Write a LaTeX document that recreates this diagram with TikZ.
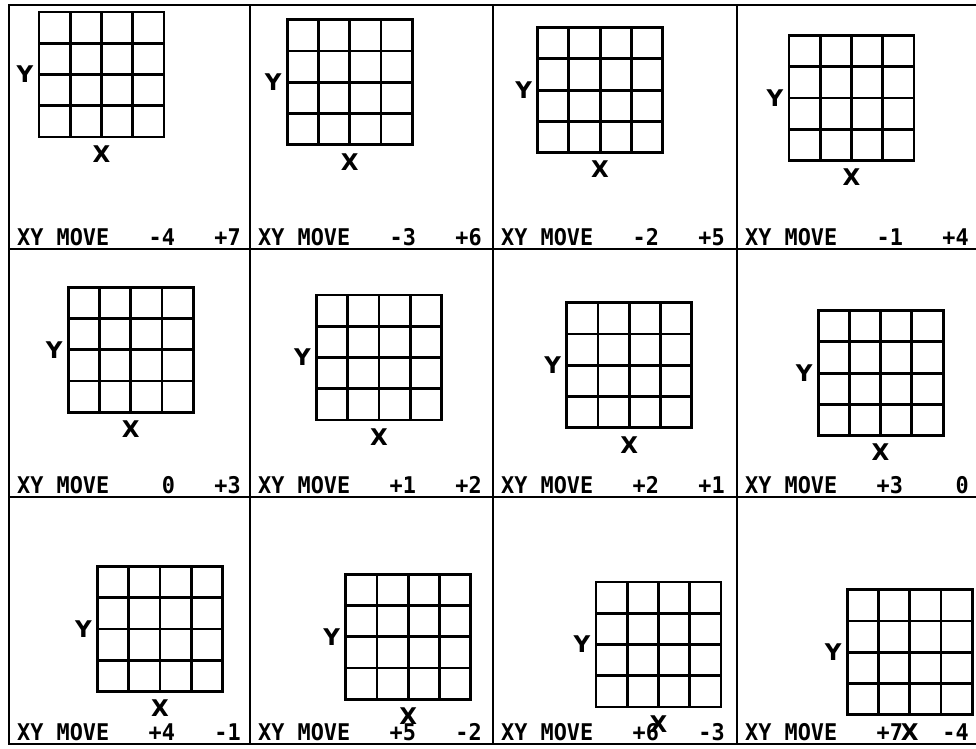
\documentclass[tikz,border=0pt]{standalone}
\usepackage{fontspec}
\newfontfamily\plotfont[FakeStretch=0.95]{DejaVu Sans Mono Bold}
\newfontfamily\axisfont{DejaVu Sans Bold}
\begin{document}
\begin{tikzpicture}[x=1pt,y=-1pt,
  frame/.style={line width=1.8pt},
  gridline/.style={line width=2.8pt, line cap=rect},
  lbl/.style={font=\plotfont\fontsize{23}{23}\selectfont, inner sep=0pt, anchor=base west},
  axislbl/.style={font=\axisfont\fontsize{23}{23}\selectfont, inner sep=0pt}]
\useasboundingbox (0,0) rectangle (976,748);
% outer frame and panel dividers
\draw[frame] (9,5) rectangle (981,744);
\foreach \vx in {250,493,737} \draw[frame] (\vx,5) -- (\vx,744);
\foreach \hy in {249,497} \draw[frame] (9,\hy) -- (981,\hy);
% panels
\foreach \k/\a/\b in {0/-4/+7, 1/-3/+6, 2/-2/+5, 3/-1/+4,
                      4/{\phantom{+}0}/+3, 5/+1/+2, 6/+2/+1, 7/+3/{\phantom{+}0},
                      8/+4/-1, 9/+5/-2, 10/+6/-3, 11/+7/-4}{
  \pgfmathtruncatemacro\c{mod(\k,4)}
  \pgfmathtruncatemacro\r{int(\k/4)}
  \pgfmathsetmacro\L{{9,250,493,737}[\c]}
  \pgfmathsetmacro\T{{5,249,497}[\r]}
  \pgfmathsetmacro\B{{249,497,744}[\r]}
  \pgfmathsetmacro\gx{\L+30+7.3*\k}
  \pgfmathsetmacro\gy{\T+7+7.8*\k}
  % grid 4x4
  \foreach \i in {0,...,4}{
    \draw[gridline] (\gx+31.25*\i,\gy) -- (\gx+31.25*\i,\gy+125);
    \draw[gridline] (\gx,\gy+31.25*\i) -- (\gx+125,\gy+31.25*\i);
  }
  \node[axislbl] (y\k) at (\gx-14,\gy+62.5) {Y};
  \node[axislbl] (x\k) at (\gx+62.5,\gy+142) {X};
  \node[lbl] (m\k) at (\L+8,\B-3.5) {XY MOVE};
  \node[lbl] (a\k) at (\L+8+10*13.15,\B-3.5) {\a};
  \node[lbl] (b\k) at (\L+8+15*13.15,\B-3.5) {\b};
}
\end{tikzpicture}
\end{document}
